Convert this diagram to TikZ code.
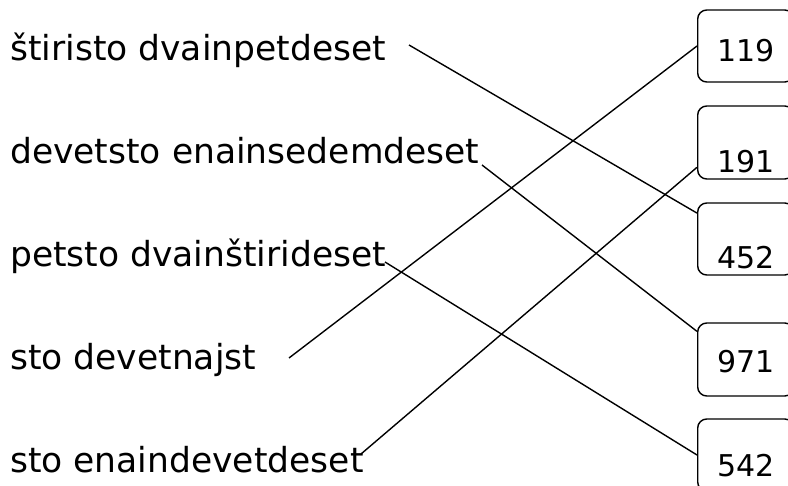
\documentclass[tikz,border=0pt]{standalone}
\usepackage{fontspec}
\setmainfont{DejaVu Sans}
\begin{document}
\begin{tikzpicture}[x=1pt, y=-1pt,
	word/.style={anchor=base west, inner sep=0pt, font=\fontsize{34.5}{40}\selectfont},
	numbox/.style={draw, line width=1.4pt, rounded corners=9pt, anchor=base west,
		inner xsep=0pt, inner ysep=0pt, text width=96pt, align=center,
		font=\fontsize{30}{36}\selectfont},
	link/.style={line width=1.4pt}]
		\useasboundingbox (0, 0) rectangle (788, 486);
		% the words
		\node[word] (w452) at (10, 61) {štiristo dvainpetdeset};
		\node[word] (w971) at (10, 164) {devetsto enainsedemdeset};
		\node[word] (w542) at (10, 267) {petsto dvainštirideset};
		\node[word] (w119) at (10, 370) {sto devetnajst};
		\node[word] (w191) at (10, 473) {sto enaindevetdeset};
		% the numbers
		\node[numbox, text height=52pt, text depth=20pt] (b119) at (697, 62) {119};
		\node[numbox, text height=67pt, text depth=6pt] (b191) at (697, 173) {191};
		\node[numbox, text height=66pt, text depth=6pt] (b452) at (697, 269) {452};
		\node[numbox, text height=50pt, text depth=23pt] (b971) at (697, 373) {971};
		\node[numbox, text height=58pt, text depth=14pt] (b542) at (697, 477) {542};
		% free ends next to the words
		\coordinate (s452) at (409, 45);
		\coordinate (s971) at (482, 165);
		\coordinate (s542) at (385, 262);
		\coordinate (s119) at (289, 358);
		\coordinate (s191) at (361, 454);
		% the connectors
		\draw[link] (s452) -- (b452.152);
		\draw[link] (s971) -- (b971.150);
		\draw[link] (s542) -- (b542.west);
		\draw[link] (s119) -- (b119.west);
		\draw[link] (s191) -- (b191.207);
	\end{tikzpicture}
\end{document}
